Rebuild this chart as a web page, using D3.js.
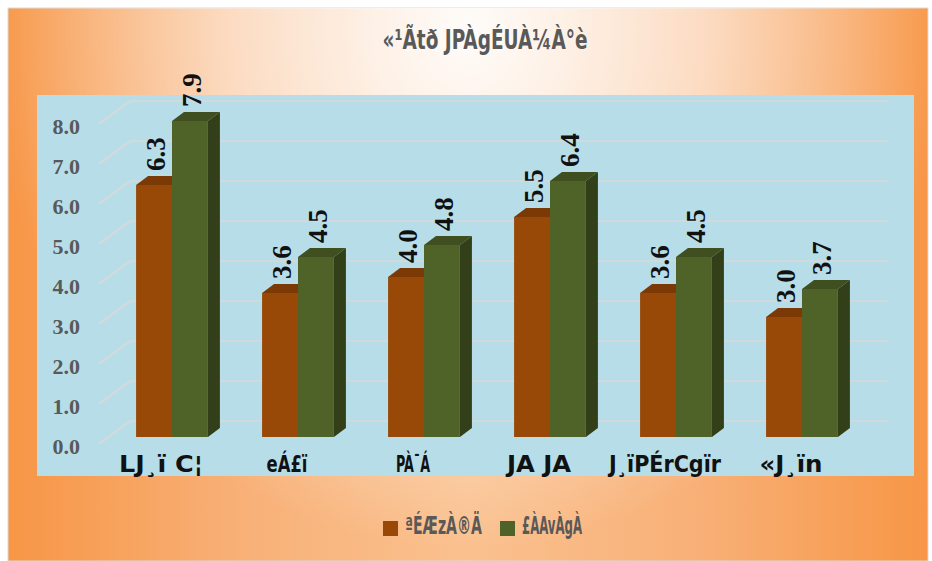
<!doctype html>
<html>
<head>
  <meta charset="utf-8">
  <title>chart</title>
  <style>
  body{ margin:0; background:#fff; }
  svg{ display:block; }
  .narrow{ font-family:"Liberation Sans Narrow","Arial Narrow","DejaVu Sans Condensed",sans-serif; }
  .serif{ font-family:"Liberation Serif","Times New Roman",serif; font-weight:bold; }
  </style>
</head>
<body>
  <svg></svg>
  <script src="https://d3js.org/d3.v7.min.js"></script>
  <script>
  var title = '«¹Ãtð JPÀgÉUÀ¼À°è';
  var categories = ['LJ¸ï C¦', 'eÁ£ï', 'PÀ¯Á', 'JA JA', 'J¸ïPÉrCgïr', '«J¸ïn'];
  var seriesNames = ['ªÉÆzÀ®Ä', '£ÀAvÀgÀ'];
  var before = [6.3, 3.6, 4.0, 5.5, 3.6, 3.0];
  var after = [7.9, 4.5, 4.8, 6.4, 4.5, 3.7];
  var yTicks = [0, 1, 2, 3, 4, 5, 6, 7, 8];

  // widths of the squeezed labels in the picture
  var catWidths = [84, 41, 34, 64, 112, 63];
  var legendWidths = [77, 60];

  var width = 932, height = 561;
  var svg = d3.select('svg').attr('width', width).attr('height', height);
  var defs = svg.append('defs');

  var base = defs.append('linearGradient').attr('id', 'bg-base')
    .attr('x1', 0).attr('x2', 1).attr('y1', 0).attr('y2', 0);
  [[0, '#f79646'], [0.25, '#f8b077'], [0.5, '#fac18f'], [0.75, '#f8b077'], [1, '#f79646']]
    .forEach(function(s){ base.append('stop').attr('offset', s[0]).attr('stop-color', s[1]); });

  var glow = defs.append('radialGradient').attr('id', 'bg-glow')
    .attr('gradientUnits', 'userSpaceOnUse')
    .attr('cx', 0).attr('cy', 0).attr('r', 1)
    .attr('gradientTransform', 'translate(468,30) scale(480,520)');
  [[0, 0.95], [0.5, 0.55], [1, 0]].forEach(function(s){
    glow.append('stop').attr('offset', s[0]).attr('stop-color', '#fff').attr('stop-opacity', s[1]);
  });

  svg.append('rect').attr('x', 8).attr('y', 8).attr('width', 920).attr('height', 553)
    .attr('fill', 'url(#bg-base)').attr('stroke', '#d9d9d9');
  svg.append('rect').attr('x', 8).attr('y', 8).attr('width', 920).attr('height', 553)
    .attr('fill', 'url(#bg-glow)');

  // plot area
  svg.append('rect').attr('x', 37).attr('y', 95).attr('width', 877).attr('height', 381)
    .attr('fill', '#b7dee8');

  var y = d3.scaleLinear().domain([0, 8]).range([437, 117]);
  var x0 = d3.scaleBand().domain(categories).range([109, 865])
    .paddingInner(0.43).paddingOuter(0.215);
  var x1 = d3.scaleBand().domain(seriesNames).range([0, x0.bandwidth()]);
  var colors = {
    front: ['#984807', '#4f6228'],
    top: ['#7b3a05', '#3f4f20'],
    side: ['#6e3405', '#323f19']
  };
  var dx = 12, dy = 9;   // bar depth
  var wx = 31, wy = 23;  // wall depth

  // gridlines on floor edge + back wall
  var grid = svg.append('g');
  grid.selectAll('path').data(yTicks).enter().append('path')
    .attr('d', function(d){
      var yy = y(d) + 7;
      return 'M99,' + yy + 'L' + (99 + wx) + ',' + (yy - wy) + 'H888';
    })
    .attr('fill', 'none').attr('stroke', '#d9d9d9').attr('stroke-width', 1.6);

  grid.selectAll('text').data(yTicks).enter().append('text')
    .attr('class', 'serif')
    .attr('x', 80).attr('y', function(d){ return y(d) + 17; })
    .attr('text-anchor', 'end')
    .attr('font-size', 22).attr('fill', '#595959')
    .text(function(d){ return d3.format('.1f')(d); });

  var rows = categories.map(function(c, i){
    return { cat: c, values: [before[i], after[i]] };
  });

  var groups = svg.append('g').selectAll('g').data(rows).enter().append('g')
    .attr('transform', function(d){ return 'translate(' + x0(d.cat) + ',0)'; });

  var bw = x1.bandwidth();
  var bars = groups.selectAll('g').data(function(d){
    return d.values.map(function(v, k){ return { v: v, k: k }; });
  }).enter().append('g')
    .attr('transform', function(d){ return 'translate(' + x1(seriesNames[d.k]) + ',0)'; });

  bars.append('path')
    .attr('d', function(d){
      var t = y(d.v), b = y(0);
      return 'M' + bw + ',' + t + 'l' + dx + ',' + (-dy) + 'V' + (b - dy) + 'l' + (-dx) + ',' + dy + 'Z';
    })
    .attr('fill', function(d){ return colors.side[d.k]; });
  bars.append('path')
    .attr('d', function(d){
      var t = y(d.v);
      return 'M0,' + t + 'l' + dx + ',' + (-dy) + 'h' + bw + 'l' + (-dx) + ',' + dy + 'Z';
    })
    .attr('fill', function(d){ return colors.top[d.k]; });
  bars.append('rect')
    .attr('x', 0).attr('width', bw)
    .attr('y', function(d){ return y(d.v); })
    .attr('height', function(d){ return y(0) - y(d.v); })
    .attr('fill', function(d){ return colors.front[d.k]; });

  bars.append('text')
    .attr('class', 'serif')
    .attr('transform', function(d){
      return 'translate(' + (bw / 2 + 2) + ',' + (y(d.v) - 14) + ') rotate(-90)';
    })
    .attr('dy', '0.35em')
    .attr('font-size', 27).attr('fill', '#111')
    .text(function(d){ return d3.format('.1f')(d.v); });

  // category labels
  svg.append('g').selectAll('text').data(categories).enter().append('text')
    .attr('class', 'narrow')
    .attr('x', function(d){ return x0(d) + x0.bandwidth() / 2 - 11; })
    .attr('y', 472)
    .attr('text-anchor', 'middle')
    .attr('font-size', 23).attr('font-weight', 'bold').attr('fill', '#111')
    .attr('textLength', function(d, i){ return catWidths[i]; })
    .attr('lengthAdjust', 'spacingAndGlyphs')
    .text(function(d){ return d; });

  // title
  svg.append('text')
    .attr('class', 'narrow')
    .attr('x', 485).attr('y', 49)
    .attr('text-anchor', 'middle')
    .attr('font-size', 26).attr('font-weight', 'bold').attr('fill', '#595959')
    .attr('textLength', 205).attr('lengthAdjust', 'spacingAndGlyphs')
    .text(title);

  // legend
  var legendX = [383, 500];
  var legend = svg.append('g').selectAll('g').data(seriesNames).enter().append('g')
    .attr('transform', function(d, i){ return 'translate(' + legendX[i] + ',0)'; });
  legend.append('rect')
    .attr('x', 0).attr('y', 521).attr('width', 15).attr('height', 15)
    .attr('fill', function(d, i){ return colors.front[i]; });
  legend.append('text')
    .attr('class', 'narrow')
    .attr('x', 22).attr('y', 534)
    .attr('font-size', 24).attr('font-weight', 'bold').attr('fill', '#595959')
    .attr('textLength', function(d, i){ return legendWidths[i]; })
    .attr('lengthAdjust', 'spacingAndGlyphs')
    .text(function(d){ return d; });
  </script>
</body>
</html>
